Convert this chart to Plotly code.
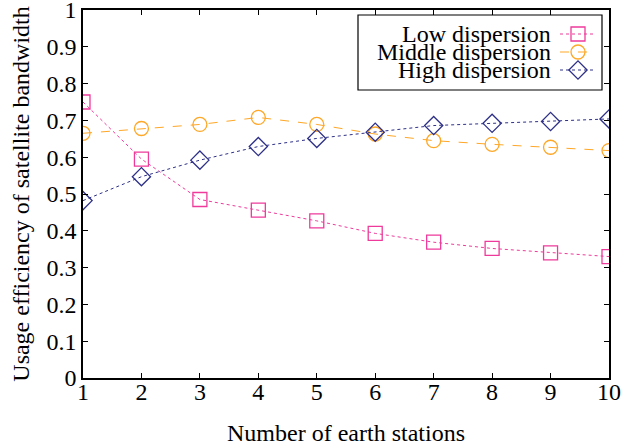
import plotly.graph_objects as go

stations = [1, 2, 3, 4, 5, 6, 7, 8, 9, 10]
low = [0.750, 0.595, 0.485, 0.456, 0.427, 0.393, 0.369, 0.352, 0.340, 0.330]
middle = [0.665, 0.678, 0.689, 0.708, 0.689, 0.663, 0.645, 0.635, 0.627, 0.618]
high = [0.482, 0.547, 0.592, 0.629, 0.651, 0.668, 0.686, 0.692, 0.697, 0.704]
series_names = ["Low dispersion", "Middle dispersion", "High dispersion"]
x_ticks = [1, 2, 3, 4, 5, 6, 7, 8, 9, 10]
y_ticks = [0, 0.1, 0.2, 0.3, 0.4, 0.5, 0.6, 0.7, 0.8, 0.9, 1]
y_tick_labels = ["0", "0.1", "0.2", "0.3", "0.4", "0.5", "0.6", "0.7", "0.8", "0.9", "1"]

colors = ["#ee3a9b", "#ffa726", "#2e3088"]
symbols = ["square-open", "circle-open", "diamond-open"]
dashes = ["dot", "dash", "dot"]
font = "Liberation Serif"
FS = 24

fig = go.Figure()
for name, ys, c, s, d in zip(series_names, [low, middle, high], colors, symbols, dashes):
    fig.add_trace(go.Scatter(
        x=stations, y=ys, name=name, mode="lines+markers",
        line=dict(color=c, width=1, dash=d),
        marker=dict(symbol=s, size=14, color=c, line=dict(width=1.3, color=c)),
        showlegend=False,
    ))

# custom legend (text right, sample on the right), in an overlay axis of [0,1]
W, H = 526.0, 368.0
def px2x(p):
    return (p - 83) / W
def py2y(p):
    return (378 - p) / H

rows = [34, 52, 70]
for name, c, s, d, r in zip(series_names, colors, symbols, dashes, rows):
    fig.add_trace(go.Scatter(
        x=[px2x(560), px2x(578), px2x(596)], y=[py2y(r)] * 3,
        xaxis="x2", yaxis="y2", mode="lines",
        line=dict(color=c, width=1, dash=d), showlegend=False, hoverinfo="skip",
    ))
    fig.add_trace(go.Scatter(
        x=[px2x(578)], y=[py2y(r)], xaxis="x2", yaxis="y2", mode="markers",
        marker=dict(symbol=s, size=14, color=c, line=dict(width=1.3, color=c)),
        showlegend=False, hoverinfo="skip",
    ))
    fig.add_annotation(
        x=px2x(553), y=py2y(r), xref="x2", yref="y2", text=name,
        showarrow=False, xanchor="right", yanchor="middle",
        font=dict(family=font, size=FS, color="black"),
    )

fig.add_shape(type="rect", xref="x2", yref="y2",
              x0=px2x(358), x1=px2x(602), y0=py2y(15), y1=py2y(90),
              line=dict(color="black", width=1.2), fillcolor="rgba(0,0,0,0)")

axis_common = dict(
    showgrid=False, zeroline=False, showline=True, linecolor="black", linewidth=1.5,
    mirror="ticks", ticks="inside", ticklen=5, tickcolor="black", tickwidth=1,
    tickfont=dict(family=font, size=FS, color="black"), automargin=False,
    ticklabeloverflow="allow",
)
fig.update_layout(
    width=643, height=446,
    margin=dict(l=83, r=34, t=10, b=68),
    plot_bgcolor="white", paper_bgcolor="white",
    xaxis=dict(range=[1, 10], tickvals=x_ticks, **axis_common, ticklabelstandoff=-9,
               title=dict(text="Number of earth stations", font=dict(family=font, size=FS, color="black"), standoff=23)),
    yaxis=dict(range=[0, 1], tickvals=y_ticks, ticktext=y_tick_labels, **axis_common,
               title=dict(text="Usage efficiency of satellite bandwidth", font=dict(family=font, size=FS, color="black"), standoff=10)),
    xaxis2=dict(overlaying="x", range=[0, 1], visible=False, fixedrange=True),
    yaxis2=dict(overlaying="y", range=[0, 1], visible=False, fixedrange=True),
    showlegend=False,
)

fig.write_html("out.html", config={"displayModeBar": False},
               post_script="document.body.style.margin='0';")
